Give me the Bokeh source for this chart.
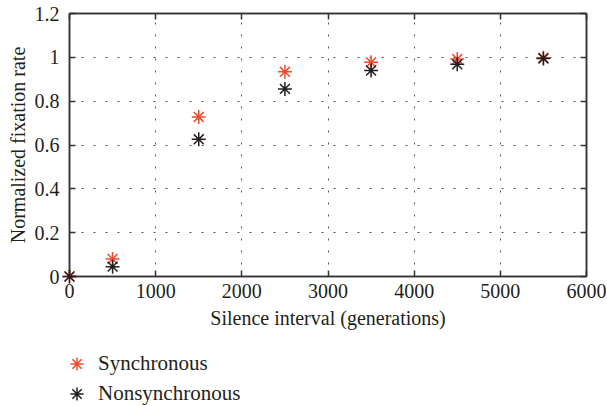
from bokeh.plotting import figure
from bokeh.layouts import column
from bokeh.models import (Range1d, LinearAxis, FixedTicker, NumeralTickFormatter,
                          CustomJSTickFormatter, Legend, LegendItem, ColumnDataSource)
from bokeh.embed import file_html
from bokeh.resources import INLINE

# ---- data ----
interval = [0, 500, 1500, 2500, 3500, 4500, 5500]
synchronous = [0.0, 0.08, 0.728, 0.934, 0.977, 0.992, 0.998]
nonsynchronous = [0.0, 0.045, 0.626, 0.856, 0.94, 0.968, 0.995]
x_ticks = [0, 1000, 2000, 3000, 4000, 5000, 6000]
y_ticks = [0, 0.2, 0.4, 0.6, 0.8, 1.0, 1.2]
series_names = ["Synchronous", "Nonsynchronous"]

FONT = "Liberation Serif"
TXT = "#231f20"
RED = "#ef4b2f"
BLK = "#231f20"

p = figure(width=607, height=336, output_backend="svg", toolbar_location=None,
           x_range=Range1d(0, 6000), y_range=Range1d(0, 1.2),
           min_border_left=69, min_border_right=21, min_border_top=13,
           min_border_bottom=60, x_axis_location=None, y_axis_location=None)
p.outline_line_color = "#333333"
p.outline_line_width = 1.5
p.background_fill_color = "white"
p.border_fill_color = "white"

def style_axis(ax, show_labels):
    ax.axis_line_color = "#333333"
    ax.axis_line_width = 1.5
    ax.major_tick_in = 6
    ax.major_tick_out = 0
    ax.major_tick_line_color = "#333333"
    ax.major_tick_line_width = 1.5
    ax.minor_tick_line_color = None
    ax.major_label_text_font = FONT
    ax.major_label_text_color = TXT
    ax.major_label_text_font_size = "20px"
    ax.major_label_standoff = 7 if show_labels else 0
    ax.axis_label_text_font = FONT
    ax.axis_label_text_font_size = "20px"
    ax.axis_label_text_font_style = "normal"
    ax.axis_label_text_color = TXT

xb = LinearAxis(ticker=FixedTicker(ticks=x_ticks),
                formatter=NumeralTickFormatter(format="0"),
                axis_label="Silence interval (generations)")
style_axis(xb, True)
xb.axis_label_standoff = 6
p.add_layout(xb, "below")

yl = LinearAxis(ticker=FixedTicker(ticks=y_ticks),
                formatter=NumeralTickFormatter(format="0.[0]"),
                axis_label="Normalized fixation rate")
style_axis(yl, True)
yl.major_label_standoff = 10
yl.axis_label_standoff = 3
p.add_layout(yl, "left")

blank = CustomJSTickFormatter(code="return ''")
xt = LinearAxis(ticker=FixedTicker(ticks=x_ticks), formatter=blank)
style_axis(xt, False)
p.add_layout(xt, "above")
yr = LinearAxis(ticker=FixedTicker(ticks=y_ticks), formatter=blank)
style_axis(yr, False)
p.add_layout(yr, "right")

p.xgrid.ticker = FixedTicker(ticks=x_ticks)
p.ygrid.ticker = FixedTicker(ticks=y_ticks)
for g in (p.xgrid, p.ygrid):
    g.grid_line_color = "#555555"
    g.grid_line_dash = "2 10"
    g.grid_line_width = 1

src = ColumnDataSource(dict(x=interval, s=synchronous, n=nonsynchronous))
r1 = p.scatter("x", "s", source=src, marker="asterisk", size=14,
               line_color=RED, line_width=1.5, level="overlay")
r2 = p.scatter("x", "n", source=src, marker="asterisk", size=14,
               line_color=BLK, line_width=1.5, level="overlay")

# ---- legend panel below the chart (frames are aligned with the chart) ----
lf = figure(width=607, height=70, output_backend="svg", toolbar_location=None,
            x_range=Range1d(0, 6000), y_range=Range1d(0, 1.2),
            min_border=0, min_border_left=0, min_border_right=0,
            min_border_top=0, min_border_bottom=0,
            x_axis_location=None, y_axis_location=None)
lf.outline_line_color = None
lf.xgrid.visible = False
lf.ygrid.visible = False
lf.background_fill_color = "white"
lf.border_fill_color = "white"

lr1 = lf.scatter("x", "s", source=src, marker="asterisk",
                 line_color=RED, line_width=1.5, visible=False)
lr2 = lf.scatter("x", "n", source=src, marker="asterisk",
                 line_color=BLK, line_width=1.5, visible=False)

def make_legend(name, rend, loc):
    lg = Legend(items=[LegendItem(label=name, renderers=[rend], index=0)], location=loc)
    lg.border_line_color = None
    lg.background_fill_alpha = 0
    lg.inactive_fill_alpha = 0
    lg.click_policy = "none"
    lg.label_text_font = FONT
    lg.label_text_font_size = "21px"
    lg.label_text_color = TXT
    lg.label_text_baseline = "middle"
    lg.glyph_width = 33
    lg.glyph_height = 33
    lg.label_height = 33
    lg.label_standoff = 5
    lg.padding = 0
    lg.margin = 0
    lg.spacing = 0
    return lg

lf.add_layout(make_legend(series_names[0], lr1, (-9, 26)))
lf.add_layout(make_legend(series_names[1], lr2, (-9, -4)))

layout = column(p, lf, spacing=0)
open("out.html", "w").write(file_html(layout, INLINE))
